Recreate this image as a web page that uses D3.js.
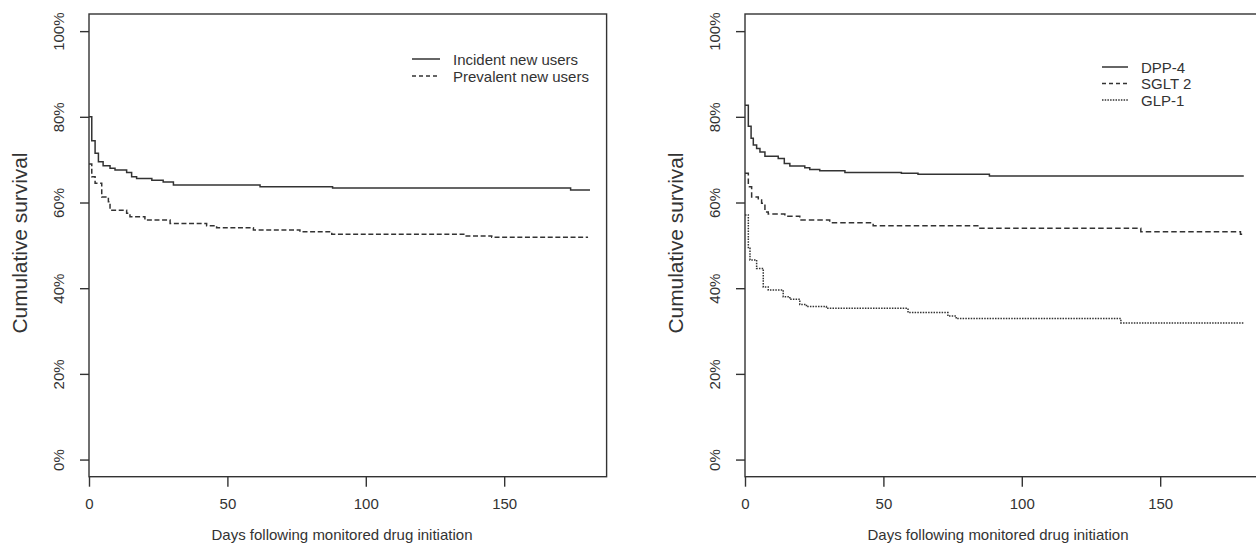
<!DOCTYPE html>
<html>
<head>
<meta charset="utf-8">
<script src="https://cdn.jsdelivr.net/npm/d3@7"></script>
<style>
  body { margin: 0; background: #fff; }
  text { font-family: "Liberation Sans", Arial, sans-serif; fill: #333; }
</style>
</head>
<body>
<script>
// x / y ticks
const xTicks = [0, 50, 100, 150];
const yTicks = [0, 20, 40, 60, 80, 100];

// left panel: incident vs prevalent new users
const incidentDays = [0, 1.0, 2.2, 3.4, 5.1, 7.6, 9.4, 13.6, 15.4, 17.2, 22.7, 26.8, 30.5, 61.8, 88, 174, 181];
const incidentSurv = [80, 74.4, 71.5, 69.5, 68.6, 68.0, 67.6, 67.0, 66.0, 65.6, 65.2, 64.8, 64.1, 63.7, 63.4, 62.9, 62.9];
const prevalentDays = [0, 1.0, 2.2, 4.6, 7.0, 7.6, 13.6, 14.8, 20.2, 29.3, 42.5, 46.1, 59.4, 76.2, 87.7, 135.8, 145.5, 180.3];
const prevalentSurv = [69, 66.0, 64.5, 61.3, 60.2, 58.2, 57.5, 56.7, 55.9, 55.1, 54.6, 54.1, 53.6, 53.2, 52.6, 52.2, 51.9, 51.9];

// right panel: by drug class
const dppDays = [0, 1.2, 2.2, 3.0, 4.2, 5.4, 7.2, 12.0, 14.2, 16.2, 21.6, 23.4, 27.0, 36.1, 56.5, 62.5, 88.3, 180.2];
const dppSurv = [82.7, 77.8, 75.0, 73.4, 72.6, 71.8, 70.8, 70.3, 69.1, 68.5, 68.1, 67.7, 67.4, 67.0, 66.8, 66.6, 66.2, 66.2];
const sgltDays = [0, 1.2, 2.4, 4.8, 6.0, 7.2, 8.4, 14.4, 19.8, 30.6, 46.3, 84.1, 143, 179, 180.2];
const sgltSurv = [66.8, 63.7, 61.3, 60.6, 59.8, 57.8, 57.3, 56.8, 55.9, 55.3, 54.6, 54.0, 53.2, 52.6, 52.6];
const glpDays = [0, 1.2, 1.8, 4.2, 6.6, 8.4, 13.8, 16.2, 19.8, 22.2, 29.4, 58.9, 73.3, 76.3, 135.8, 180.2];
const glpSurv = [57.1, 49.3, 46.6, 44.6, 40.3, 39.6, 38.0, 37.4, 36.2, 35.7, 35.3, 34.3, 33.5, 32.9, 31.9, 31.9];

const W = 1256, H = 543;
const ink = "#333";

const svg = d3.select("body").append("svg")
  .attr("width", W).attr("height", H);

const zip = (a, b) => a.map((d, i) => ({ t: d, s: b[i] }));

function drawPanel(p) {
  const x = d3.scaleLinear().domain([0, 187]).range([p.left, p.left + 517.6]);
  const y = d3.scaleLinear().domain([-4, 104]).range([476.7, 14]);
  const g = svg.append("g");

  // box
  g.append("rect")
    .attr("x", x(0)).attr("y", y(104))
    .attr("width", x(187) - x(0)).attr("height", y(-4) - y(104))
    .attr("fill", "none").attr("stroke", ink).attr("stroke-width", 1.4);

  // x axis
  const xa = g.append("g").attr("transform", `translate(0,${y(-4)})`)
    .call(d3.axisBottom(x).tickValues(xTicks).tickSize(10).tickPadding(12).tickSizeOuter(0));
  xa.select(".domain").remove();
  xa.selectAll("line").attr("stroke", ink).attr("stroke-width", 1.4);
  xa.selectAll("text").attr("font-size", 15).attr("fill", ink)
    .attr("font-family", "Liberation Sans, Arial, sans-serif");

  // y axis (rotated labels)
  const ya = g.append("g").attr("transform", `translate(${x(0)},0)`)
    .call(d3.axisLeft(y).tickValues(yTicks).tickSize(9).tickFormat(d => d + "%"));
  ya.select(".domain").remove();
  ya.selectAll("line").attr("stroke", ink).attr("stroke-width", 1.4);
  ya.selectAll("text")
    .attr("x", null).attr("dy", null)
    .attr("font-size", 15).attr("fill", ink)
    .attr("font-family", "Liberation Sans, Arial, sans-serif")
    .attr("text-anchor", "middle")
    .attr("transform", "translate(-25,0) rotate(-90)");

  // axis titles
  g.append("text")
    .attr("x", x(0) + 253).attr("y", 540)
    .attr("text-anchor", "middle").attr("font-size", 15)
    .text("Days following monitored drug initiation");
  g.append("text")
    .attr("transform", `translate(${x(0) - 62},243) rotate(-90)`)
    .attr("text-anchor", "middle")
    .attr("font-family", "Lato, 'Open Sans', sans-serif")
    .attr("font-size", 21)
    .attr("textLength", 181).attr("lengthAdjust", "spacingAndGlyphs")
    .text("Cumulative survival");

  // curves
  const line = d3.line().x(d => x(d.t)).y(d => y(d.s)).curve(d3.curveStepAfter);
  p.series.forEach(s => {
    g.append("path")
      .datum(zip(s.days, s.surv))
      .attr("d", line)
      .attr("fill", "none").attr("stroke", ink)
      .attr("stroke-width", s.w)
      .attr("stroke-dasharray", s.dash);
  });

  // legend
  p.series.forEach((s, i) => {
    const ly = p.legY + i * p.legStep;
    g.append("line")
      .attr("x1", p.legX).attr("x2", p.legX + p.legLen)
      .attr("y1", ly).attr("y2", ly)
      .attr("stroke", ink).attr("stroke-width", s.w)
      .attr("stroke-dasharray", s.legDash);
    g.append("text")
      .attr("x", p.legX + p.legLen + 13).attr("y", ly + 5.5)
      .attr("font-size", 15)
      .text(s.name);
  });
}

drawPanel({
  left: 89,
  legX: 412, legLen: 28, legY: 59, legStep: 17,
  series: [
    { name: "Incident new users", days: incidentDays, surv: incidentSurv, w: 1.5, dash: null, legDash: null },
    { name: "Prevalent new users", days: prevalentDays, surv: prevalentSurv, w: 1.5, dash: "5,2.6", legDash: "4,3" }
  ]
});

drawPanel({
  left: 745,
  legX: 1102, legLen: 26, legY: 67, legStep: 16.5,
  series: [
    { name: "DPP-4", days: dppDays, surv: dppSurv, w: 1.5, dash: null, legDash: null },
    { name: "SGLT 2", days: sgltDays, surv: sgltSurv, w: 1.5, dash: "5.5,3", legDash: "4,3" },
    { name: "GLP-1", days: glpDays, surv: glpSurv, w: 1.5, dash: "1.5,1.2", legDash: "1.5,1.2" }
  ]
});
</script>
</body>
</html>
